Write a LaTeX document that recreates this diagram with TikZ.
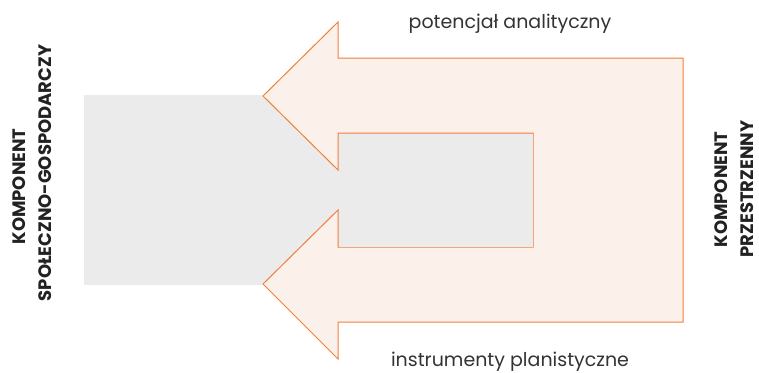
\documentclass[tikz,border=0pt]{standalone}
\usepackage{fontspec}
\setmainfont{Poppins}
\definecolor{arrowline}{HTML}{F07F3C}
\definecolor{arrowfill}{HTML}{FCF0EB}
\definecolor{grayfill}{HTML}{EBEBEB}
\definecolor{txt}{HTML}{333333}
\definecolor{vtxt}{HTML}{222222}
\begin{document}
\begin{tikzpicture}[x=1pt,y=-1pt,
  lbl/.style={text=txt,font=\fontsize{19}{22}\selectfont,inner sep=0pt,anchor=base},
  vlbl/.style={text=vtxt,font=\bfseries\fontsize{18}{20}\selectfont,rotate=90,inner sep=0pt,anchor=base}]
\useasboundingbox (0,0) rectangle (759,372);
\fill[grayfill] (83.5,94.5) rectangle (600,285);
\draw[arrowline,fill=arrowfill,line width=1pt,line join=miter]
  (683,58) -- (338,58) -- (338,22) -- (263,96) -- (338,170) -- (338,133)
  -- (533,133) -- (533,247) -- (338,247) -- (338,210) -- (263,284)
  -- (338,359) -- (338,322) -- (683,322) -- cycle;
\fill[grayfill] (338.5,133.5) rectangle (532.5,246.5);
\node[lbl] (top) at (510,28) {potencjał analityczny};
\node[lbl] (bot) at (510,366) {instrumenty planistyczne};
\node[vlbl] (left1) at (25,186.5) {KOMPONENT};
\node[vlbl] (left2) at (51.5,173) {SPOŁECZNO-GOSPODARCZY};
\node[vlbl] (right1) at (727.5,189.5) {KOMPONENT};
\node[vlbl] (right2) at (753,189) {PRZESTRZENNY};
\end{tikzpicture}
\end{document}
